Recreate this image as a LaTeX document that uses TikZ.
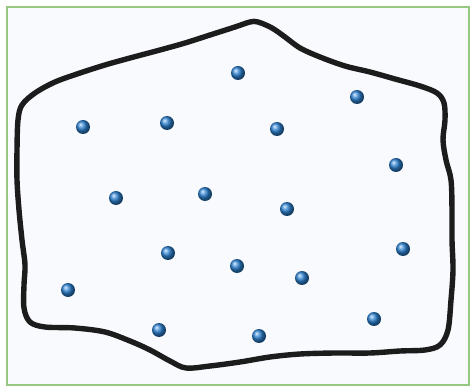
\documentclass[tikz,border=0pt]{standalone}
\usepackage{tikz}
\usetikzlibrary{shapes.geometric,shadings}
\definecolor{framecolor}{RGB}{150, 200, 130}
\definecolor{paperbg}{RGB}{248, 250, 253}
\definecolor{outlinecolor}{RGB}{28, 28, 28}
\definecolor{particlecolor}{RGB}{45, 130, 210}
\tikzset{
frameline/.style={
  draw=framecolor,
  fill=paperbg,
  line width=1.6pt
},
outline/.style={
  draw=outlinecolor,
  line width=5.4pt,
  line join=round
},
particle/.style={
  circle,
  inner sep=0pt,
  minimum size=14pt,
  shading=ball,
  ball color=particlecolor
}
}
\begin{document}
\begin{tikzpicture}[x=1pt,y=-1pt]
  \useasboundingbox (0,0) rectangle (471,387);
  \draw[frameline] (7,7) rectangle (469,385);
  % container wall
  \draw[outline] plot[smooth cycle, tension=0.55] coordinates {
    (258,22) (272,28) (285,37) (300,48) (320,57) (345,66) (370,72)
    (395,79) (420,86) (437,93) (444,103) (445,120) (443,140) (446,160)
    (451,180) (452,210) (452,240) (453,270) (451,300) (448,330)
    (440,345) (425,350) (400,351) (370,353) (335,353) (300,354)
    (270,357) (240,362) (210,366) (186,368) (170,361) (150,350)
    (130,341) (105,332) (75,328) (45,327) (30,322) (24,308) (24,285)
    (25,265) (22,240) (19,210) (17,180) (17,150) (18,120) (22,105)
    (35,93) (55,82) (80,73) (105,65) (130,58) (160,50) (185,43)
    (210,35) (235,27) (250,22)};
  % gas particles
  \foreach \px/\py [count=\i] in {238/73, 357/97, 83/127, 167/123, 277/129,
      396/165, 116/198, 205/194, 287/209, 168/253, 403/249, 237/266,
      302/278, 68/290, 374/319, 159/330, 259/336}
    \node[particle] (p\i) at (\px,\py) {};
\end{tikzpicture}
\end{document}
